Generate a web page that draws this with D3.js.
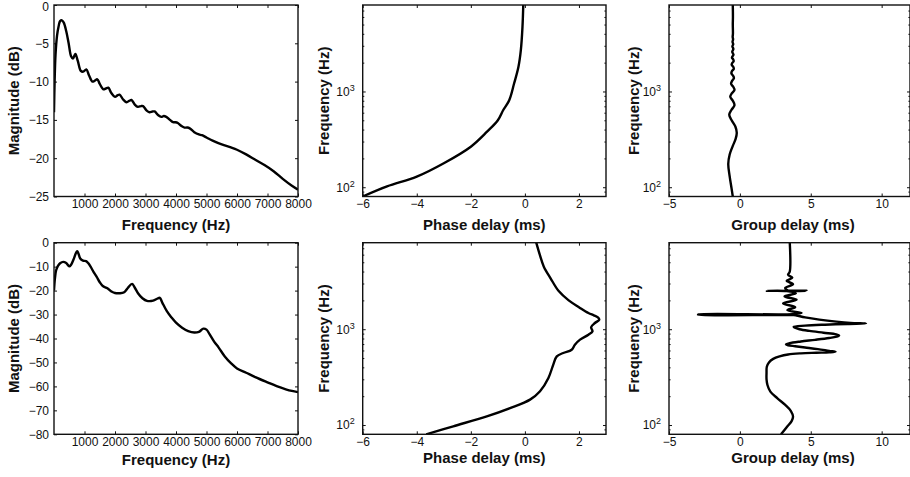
<!DOCTYPE html>
<html>
<head>
<meta charset="utf-8">
<script src="https://cdn.jsdelivr.net/npm/d3@7"></script>
<style>
body { margin: 0; background: #fff; }
svg text { font-family: "Liberation Sans", Arial, Helvetica, sans-serif; fill: #111; }
</style>
</head>
<body>
<div id="chart"></div>
<script>
// magnitude responses (Hz, dB)
const topMagFreq = [0,20,50,100,150,200,260,320,400,480,560,620,700,780,880,960,1060,1150,1260,1330,1420,1500,1620,1700,1780,1880,2000,2080,2150,2260,2380,2470,2540,2650,2750,2850,2920,3040,3130,3230,3300,3420,3520,3600,3680,3800,3900,3980,4060,4180,4280,4370,4450,4600,4750,4850,5000,5200,5500,5800,6000,6300,6600,6900,7200,7500,7800,8000];
const topMagDb = [-14,-10,-6.5,-4,-2.8,-2.1,-2.0,-2.3,-3.4,-5.0,-6.7,-7.0,-6.4,-7.3,-8.6,-8.7,-8.4,-9.2,-10.0,-9.9,-9.7,-10.3,-11.0,-10.9,-10.8,-11.5,-12.0,-11.8,-11.7,-12.3,-12.7,-12.5,-12.4,-13.0,-13.3,-13.2,-13.2,-13.8,-14.0,-13.9,-13.9,-14.4,-14.6,-14.5,-14.6,-15.0,-15.3,-15.3,-15.4,-15.8,-16.0,-16.0,-16.1,-16.6,-16.9,-17.0,-17.3,-17.7,-18.2,-18.6,-18.9,-19.5,-20.2,-20.9,-21.7,-22.7,-23.6,-24.1];

const botMagFreq = [0,30,70,130,200,300,400,500,560,640,720,760,800,860,950,1050,1120,1200,1300,1400,1500,1600,1750,1900,2000,2150,2300,2420,2560,2650,2760,2900,3050,3250,3400,3470,3550,3700,3850,4000,4200,4400,4600,4750,4900,5000,5100,5250,5400,5600,5800,6000,6300,6600,7000,7300,7600,7800,8000];
const botMagDb = [-20,-15,-11.5,-9.7,-8.6,-8.0,-8.5,-9.9,-9.2,-7,-4.3,-3.6,-4.5,-6.6,-7.5,-7.7,-8.5,-10,-12.3,-14.3,-16.5,-18.1,-19,-20.5,-21,-21.1,-20.7,-18.9,-17.2,-18.8,-21.2,-23.2,-24.3,-24.2,-23.3,-23.0,-25,-28.6,-31.2,-33.4,-35.5,-36.9,-37.5,-37.2,-35.9,-36.3,-38.2,-41.3,-43.8,-47.5,-50.3,-52.5,-54.3,-56.1,-58.3,-59.9,-61.2,-61.9,-62.4];

// phase delay (Hz, ms)
const topPhaseFreq = [80,102,129,178,265,380,500,640,810,1210,1800,2700,4700,8000];
const topPhaseMs = [-6.0,-5.1,-4.0,-3.0,-2.0,-1.4,-1.0,-0.8,-0.58,-0.4,-0.24,-0.15,-0.09,-0.06];

const botPhaseFreq = [80,97,123,150,184,225,310,427,521,565,611,689,778,877,950,1050,1161,1256,1330,1396,1476,1700,2000,2500,3400,4500,6000,8000];
const botPhaseMs = [-3.65,-2.65,-1.41,-0.55,0.19,0.56,0.87,1.05,1.18,1.42,1.73,1.85,2.04,2.35,2.5,2.45,2.59,2.75,2.7,2.55,2.35,2.0,1.62,1.25,0.95,0.7,0.55,0.42];

// group delay (Hz, ms)
const topGroupFreq = [80,100,130,175,220,270,320,370,430,500,570,640,720,800,880,960,1040,1120,1200,1290,1380,1460,1550,1640,1720,1810,1900,1980,2070,2160,2250,2330,2420,2600,2780,2950,3120,3300,3500,3700,4000,5000,6000,8000];
const topGroupMs = [-0.5,-0.6,-0.72,-0.82,-0.72,-0.5,-0.3,-0.22,-0.32,-0.58,-0.75,-0.6,-0.38,-0.5,-0.68,-0.56,-0.38,-0.47,-0.62,-0.55,-0.42,-0.48,-0.6,-0.55,-0.43,-0.47,-0.58,-0.54,-0.44,-0.47,-0.56,-0.52,-0.45,-0.54,-0.46,-0.53,-0.47,-0.52,-0.48,-0.51,-0.49,-0.5,-0.49,-0.5];

const botGroupFreq = [80,95,110,122,140,162,190,223,260,300,350,406,450,490,520,545,560,568,574,582,595,620,645,665,680,695,715,745,775,810,840,860,885,920,960,1000,1040,1060,1090,1115,1135,1148,1165,1200,1260,1330,1390,1405,1412,1428,1435,1476,1580,1700,1860,2030,2200,2370,2500,2512,2524,2536,2700,2950,3200,3450,3700,4000,8000];
const botGroupMs = [2.9,3.3,3.65,3.75,3.6,3.2,2.65,2.15,1.95,1.88,1.88,1.9,2.05,2.35,2.8,3.4,4.3,5.4,6.3,6.75,6.3,5.5,4.6,3.9,3.4,3.25,3.5,4.3,5.3,6.3,6.9,7.0,6.8,5.9,4.9,4.2,3.85,3.8,4.6,6.0,7.6,8.9,7.8,6.8,5.6,4.6,4.0,3.8,-2.95,-2.9,3.7,4.35,3.35,3.9,3.05,4.0,3.15,3.95,3.3,1.9,4.7,3.4,3.2,3.75,3.3,3.7,3.4,3.52,3.52];

// ticks
const freqTicks = [1000,2000,3000,4000,5000,6000,7000,8000];
const topMagTicks = [-25,-20,-15,-10,-5,0];
const botMagTicks = [-80,-70,-60,-50,-40,-30,-20,-10,0];
const phaseTicks = [-6,-4,-2,0,2];
const groupTicks = [-5,0,5,10];
const logTicks = [100,1000];
const minorLogTicks = [90,200,300,400,500,600,700,800,900,2000,3000,4000,5000,6000,7000];

const width = 910;
const height = 477;

const svg = d3.select("#chart")
    .append("svg")
    .attr("width", width)
    .attr("height", height);

const cols = [{x0: 54, x1: 298}, {x0: 362.7, x1: 606}, {x0: 669, x1: 910}];
const rows = [{y0: 5, y1: 196.5}, {y0: 242.7, y1: 434.3}];

let clipCount = 0;

//draws one boxed panel with inside ticks like matlab
function drawPanel(p) {
    const col = cols[p.col], row = rows[p.row];
    const g = svg.append("g");
    const x = d3.scaleLinear().domain(p.xDomain).range([col.x0, col.x1]);
    const y = (p.logY ? d3.scaleLog() : d3.scaleLinear()).domain(p.yDomain).range([row.y1, row.y0]);
    const fmt = d3.format("d");

    const clipId = "clip" + (clipCount++);
    svg.append("clipPath").attr("id", clipId)
        .append("rect")
        .attr("x", col.x0).attr("y", row.y0)
        .attr("width", col.x1 - col.x0).attr("height", row.y1 - row.y0);

    //x axes, bottom with labels and mirrored top
    g.append("g").attr("transform", "translate(0," + row.y1 + ")")
        .call(d3.axisBottom(x).tickValues(p.xTicks).tickSize(-3).tickPadding(3).tickFormat(fmt));
    g.append("g").attr("transform", "translate(0," + row.y0 + ")")
        .call(d3.axisTop(x).tickValues(p.xTicks).tickSize(-3).tickFormat(""));

    //y axes
    const left = g.append("g").attr("transform", "translate(" + col.x0 + ",0)")
        .call(d3.axisLeft(y).tickValues(p.yTicks).tickSize(-3).tickPadding(p.logY ? 8 : 5).tickFormat(fmt));
    g.append("g").attr("transform", "translate(" + col.x1 + ",0)")
        .call(d3.axisRight(y).tickValues(p.yTicks).tickSize(-3).tickFormat(""));

    if (p.logY) {
        left.selectAll(".tick text").each(function (d) {
            const t = d3.select(this);
            t.text("10");
            t.append("tspan").attr("dy", "-0.55em").attr("font-size", "9px").text(Math.round(Math.log10(d)));
        });
        g.append("g").attr("transform", "translate(" + col.x0 + ",0)")
            .call(d3.axisLeft(y).tickValues(minorLogTicks).tickSize(-1.6).tickFormat(""));
        g.append("g").attr("transform", "translate(" + col.x1 + ",0)")
            .call(d3.axisRight(y).tickValues(minorLogTicks).tickSize(-1.6).tickFormat(""));
    }

    g.selectAll(".domain").remove();
    g.selectAll(".tick line").attr("stroke", "#111").attr("stroke-width", 1);
    g.selectAll(".tick text").attr("font-size", "12px").attr("fill", "#111");

    //keep the top "0" label inside the page
    left.selectAll(".tick text").filter(function (d) { return y(d) < 8; }).attr("dy", "0.45em");

    //the curve
    const line = d3.line()
        .x(function (d) { return x(d[0]); })
        .y(function (d) { return y(d[1]); })
        .curve(d3.curveCatmullRom.alpha(0.5));

    g.append("path")
        .datum(p.xs.map(function (v, i) { return [v, p.ys[i]]; }))
        .attr("clip-path", "url(#" + clipId + ")")
        .attr("fill", "none")
        .attr("stroke", "#000")
        .attr("stroke-width", 2.4)
        .attr("stroke-linejoin", "round")
        .attr("d", line);

    //box
    g.append("rect")
        .attr("x", col.x0).attr("y", row.y0)
        .attr("width", col.x1 - col.x0).attr("height", row.y1 - row.y0)
        .attr("fill", "none").attr("stroke", "#111").attr("stroke-width", 1.4);

    //axis titles
    g.append("text")
        .attr("x", p.xLabelX || (col.x0 + col.x1) / 2)
        .attr("y", p.xLabelY)
        .attr("text-anchor", "middle")
        .attr("font-size", "15px")
        .attr("font-weight", "bold")
        .text(p.xLabel);

    g.append("text")
        .attr("transform", "translate(" + p.yLabelX + "," + ((row.y0 + row.y1) / 2) + ") rotate(-90)")
        .attr("text-anchor", "middle")
        .attr("font-size", "15px")
        .attr("font-weight", "bold")
        .text(p.yLabel);
}

drawPanel({col: 0, row: 0, xDomain: [0, 8000], yDomain: [-25, 0], xTicks: freqTicks, yTicks: topMagTicks,
    xs: topMagFreq, ys: topMagDb, xLabel: "Frequency (Hz)", yLabel: "Magnitude (dB)", xLabelY: 230, yLabelX: 19});
drawPanel({col: 1, row: 0, xDomain: [-6, 3], yDomain: [80, 8000], logY: true, xTicks: phaseTicks, yTicks: logTicks,
    xs: topPhaseMs, ys: topPhaseFreq, xLabel: "Phase delay (ms)", yLabel: "Frequency (Hz)", xLabelY: 230, yLabelX: 329});
drawPanel({col: 2, row: 0, xDomain: [-5, 12], yDomain: [80, 8000], logY: true, xTicks: groupTicks, yTicks: logTicks,
    xs: topGroupMs, ys: topGroupFreq, xLabel: "Group delay (ms)", yLabel: "Frequency (Hz)", xLabelY: 230, xLabelX: 793, yLabelX: 639});

drawPanel({col: 0, row: 1, xDomain: [0, 8000], yDomain: [-80, 0], xTicks: freqTicks, yTicks: botMagTicks,
    xs: botMagFreq, ys: botMagDb, xLabel: "Frequency (Hz)", yLabel: "Magnitude (dB)", xLabelY: 465, yLabelX: 19});
drawPanel({col: 1, row: 1, xDomain: [-6, 3], yDomain: [80, 8000], logY: true, xTicks: phaseTicks, yTicks: logTicks,
    xs: botPhaseMs, ys: botPhaseFreq, xLabel: "Phase delay (ms)", yLabel: "Frequency (Hz)", xLabelY: 462.5, yLabelX: 329});
drawPanel({col: 2, row: 1, xDomain: [-5, 12], yDomain: [80, 8000], logY: true, xTicks: groupTicks, yTicks: logTicks,
    xs: botGroupMs, ys: botGroupFreq, xLabel: "Group delay (ms)", yLabel: "Frequency (Hz)", xLabelY: 462.5, xLabelX: 793, yLabelX: 639});
</script>
</body>
</html>
